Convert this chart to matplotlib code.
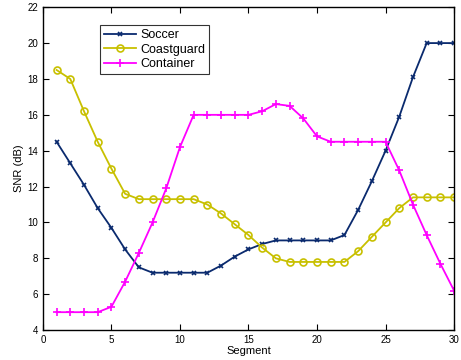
import matplotlib
matplotlib.use("Agg")
import matplotlib.pyplot as plt
import numpy as np

segments = list(range(1, 31))
soccer = [14.5, 13.3, 12.1, 10.8, 9.7, 8.5, 7.5, 7.2, 7.2, 7.2, 7.2, 7.2, 7.6, 8.1, 8.5,
          8.8, 9.0, 9.0, 9.0, 9.0, 9.0, 9.3, 10.7, 12.3, 14.0, 15.9, 18.1, 20.0, 20.0, 20.0]
coastguard = [18.5, 18.0, 16.2, 14.5, 13.0, 11.6, 11.3, 11.3, 11.3, 11.3, 11.3, 11.0, 10.5, 9.9, 9.3,
              8.6, 8.0, 7.8, 7.8, 7.8, 7.8, 7.8, 8.4, 9.2, 10.0, 10.8, 11.4, 11.4, 11.4, 11.4]
container = [5.0, 5.0, 5.0, 5.0, 5.3, 6.7, 8.3, 10.0, 11.9, 14.2, 16.0, 16.0, 16.0, 16.0, 16.0,
             16.2, 16.6, 16.5, 15.8, 14.8, 14.5, 14.5, 14.5, 14.5, 14.5, 12.9, 11.0, 9.3, 7.7, 6.2]

plt.rcParams['font.family'] = ['Liberation Sans', 'DejaVu Sans']
fig = plt.figure(figsize=(4.61, 3.60), dpi=100)
ax = fig.add_axes([0.093, 0.083, 0.892, 0.897])

ax.plot(segments, soccer, color='#0a2a6e', marker='x', markersize=3.5, markeredgewidth=1.2,
        linewidth=1.3, label='Soccer')
ax.plot(segments, coastguard, color='#c8c000', marker='o', markersize=5, markerfacecolor='none',
        markeredgewidth=1.2, linewidth=1.3, label='Coastguard')
ax.plot(segments, container, color='#ff00ff', marker='+', markersize=6, markeredgewidth=1.2,
        linewidth=1.3, label='Container')

ax.set_xlim(0, 30)
ax.set_ylim(4, 22)
ax.set_xticks(range(0, 31, 5))
ax.set_yticks(range(4, 23, 2))
ax.tick_params(direction='in', top=True, right=True, labelsize=7, length=4)
ax.set_xlabel('Segment', fontsize=8, labelpad=1)
ax.set_ylabel('SNR (dB)', fontsize=8, labelpad=2)
for s in ax.spines.values():
    s.set_linewidth(1.0)

leg = ax.legend(loc='upper left', bbox_to_anchor=(0.139, 0.944), fontsize=9, frameon=True,
                fancybox=False, edgecolor='black', borderpad=0.3, labelspacing=0.2,
                handlelength=2.6, handletextpad=0.3, borderaxespad=0)
leg.get_frame().set_linewidth(0.8)

fig.savefig('out.png', dpi=100)
